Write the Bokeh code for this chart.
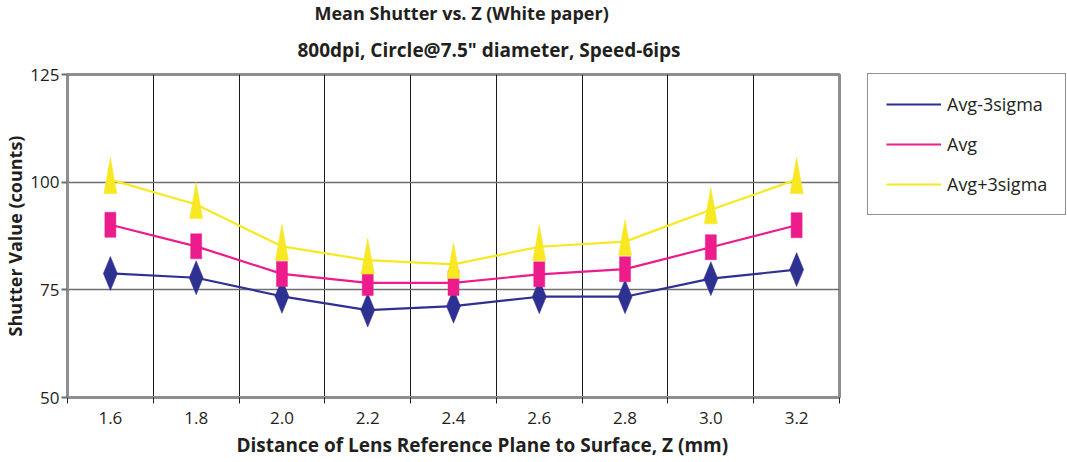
from bokeh.plotting import figure
from bokeh.models import (FixedTicker, Legend, LegendItem, Title, Range1d)
from bokeh.embed import file_html
from bokeh.resources import INLINE

# ---- data ----
z_labels = ["1.6", "1.8", "2.0", "2.2", "2.4", "2.6", "2.8", "3.0", "3.2"]
avg_minus_3sigma = [78.8, 77.8, 73.5, 70.3, 71.2, 73.4, 73.4, 77.6, 79.7]
avg = [90.1, 85.1, 78.7, 76.6, 76.6, 78.6, 79.8, 84.9, 90.0]
avg_plus_3sigma = [100.6, 94.8, 85.1, 81.9, 80.9, 85.0, 86.2, 93.6, 100.6]
y_ticks = [50, 75, 100, 125]
series_names = ["Avg-3sigma", "Avg", "Avg+3sigma"]

# ---- style ----
BLUE = "#2e3192"
PINK = "#ec1c8c"
YELLOW = "#f7e823"
FONT = "Open Sans"
TXT = "#231f20"

FRAME_W, FRAME_H = 772, 323
Y0, Y1 = 50, 125
X0, X1 = 0, len(z_labels)
px_x = (X1 - X0) / FRAME_W      # data units per pixel (x)
px_y = (Y1 - Y0) / FRAME_H      # data units per pixel (y)

xs = [i + 0.5 for i in range(len(z_labels))]

p = figure(width=1051, height=446, frame_width=FRAME_W, frame_height=FRAME_H,
           output_backend="svg", toolbar_location=None,
           x_range=Range1d(X0, X1), y_range=Range1d(Y0, Y1),
           min_border_left=60, min_border_right=10, min_border_top=67, min_border_bottom=56)
p.title = None

p.background_fill_color = "white"
p.border_fill_color = "white"
p.outline_line_color = "#8c8e91"
p.outline_line_width = 3

# grids
p.ygrid.ticker = FixedTicker(ticks=[75, 100])
p.ygrid.grid_line_color = "#6f6f6f"
p.ygrid.grid_line_width = 1.6
p.xgrid.ticker = FixedTicker(ticks=list(range(1, len(z_labels))))
p.xgrid.grid_line_color = "#1a1a1a"
p.xgrid.grid_line_width = 1

# x axis
xa = p.xaxis[0]
xa.ticker = FixedTicker(ticks=xs, minor_ticks=list(range(0, len(z_labels) + 1)))
xa.major_label_overrides = {x: lab for x, lab in zip(xs, z_labels)}
xa.major_tick_line_color = None
xa.major_tick_out = 0
xa.major_tick_in = 0
xa.minor_tick_out = 6
xa.minor_tick_in = 0
xa.minor_tick_line_color = "#231f20"
xa.minor_tick_line_width = 1
xa.axis_line_color = "#8c8e91"
xa.axis_line_width = 3
xa.major_label_standoff = 8
xa.major_label_text_font = FONT
xa.major_label_text_font_size = "17px"
xa.major_label_text_color = TXT

# x axis title (as a Title so it can be offset like the original)
xt = Title(text="Distance of Lens Reference Plane to Surface, Z (mm)", align="left",
           text_font=FONT, text_font_size="19px", text_font_style="bold",
           text_color=TXT, offset=169, standoff=6)
p.add_layout(xt, "below")

# y axis
ya = p.yaxis[0]
ya.ticker = FixedTicker(ticks=y_ticks)
ya.major_tick_out = 6
ya.major_tick_in = 0
ya.major_tick_line_color = "#6f6f6f"
ya.major_tick_line_width = 2
ya.minor_tick_line_color = None
ya.axis_line_color = "#8c8e91"
ya.axis_line_width = 3
ya.major_label_standoff = 2
ya.major_label_text_font = FONT
ya.major_label_text_font_size = "17px"
ya.major_label_text_color = TXT
ya.axis_label = "Shutter Value (counts)"
ya.axis_label_text_font = FONT
ya.axis_label_text_font_size = "18px"
ya.axis_label_text_font_style = "bold"
ya.axis_label_text_color = TXT
ya.axis_label_standoff = 0

# titles (second line added first so it sits closer to the plot)
t2 = Title(text='800dpi, Circle@7.5" diameter, Speed-6ips', align="left",
           text_font=FONT, text_font_size="19px", text_font_style="bold",
           text_color=TXT, offset=230, standoff=23)
t1 = Title(text="Mean Shutter vs. Z (White paper)", align="left",
           text_font=FONT, text_font_size="18px", text_font_style="bold",
           text_color=TXT, offset=247, standoff=-3)
p.add_layout(t2, "above")
p.add_layout(t1, "above")

# ---- marker shape builders (stretched markers, in pixel sizes) ----
def diamonds(xv, yv, hw, hh):
    px = [[x - hw * px_x, x, x + hw * px_x, x] for x in xv]
    py = [[y, y + hh * px_y, y, y - hh * px_y] for y in yv]
    return px, py

def triangles(xv, yv, hw, up, down):
    px = [[x - hw * px_x, x, x + hw * px_x] for x in xv]
    py = [[y - down * px_y, y + up * px_y, y - down * px_y] for y in yv]
    return px, py

legend_items = []

# Avg-3sigma
l1 = p.line(xs, avg_minus_3sigma, line_color=BLUE, line_width=2.2)
dx, dy = diamonds(xs, avg_minus_3sigma, 7, 17)
p.patches(dx, dy, fill_color=BLUE, line_color=BLUE, line_width=0.5)
s1 = p.scatter(x=[], y=[], marker="diamond", size=18, fill_color=BLUE, line_color=BLUE)
legend_items.append(LegendItem(label=series_names[0], renderers=[l1, s1]))

# Avg
l2 = p.line(xs, avg, line_color=PINK, line_width=2.2)
p.rect(x=xs, y=avg, width=11, height=25, width_units="screen", height_units="screen",
       fill_color=PINK, line_color=PINK, line_width=0.5)
s2 = p.scatter(x=[], y=[], marker="square", size=11, fill_color=PINK, line_color=PINK)
legend_items.append(LegendItem(label=series_names[1], renderers=[l2, s2]))

# Avg+3sigma
l3 = p.line(xs, avg_plus_3sigma, line_color=YELLOW, line_width=2.2)
tx, ty = triangles(xs, avg_plus_3sigma, 6.5, 22, 14)
p.patches(tx, ty, fill_color=YELLOW, line_color=YELLOW, line_width=0.5)
s3 = p.scatter(x=[], y=[], marker="triangle", size=14, fill_color=YELLOW, line_color=YELLOW)
legend_items.append(LegendItem(label=series_names[2], renderers=[l3, s3]))

legend = Legend(items=legend_items, location=(28, 182), orientation="vertical",
                border_line_color="#231f20", border_line_width=1.2,
                background_fill_color="white", background_fill_alpha=1,
                label_text_font=FONT, label_text_font_size="18px", label_text_color=TXT,
                glyph_width=55, glyph_height=20, label_standoff=6, spacing=16,
                padding=18, margin=0)
p.add_layout(legend, "right")

open("out.html", "w").write(file_html(p, INLINE))
